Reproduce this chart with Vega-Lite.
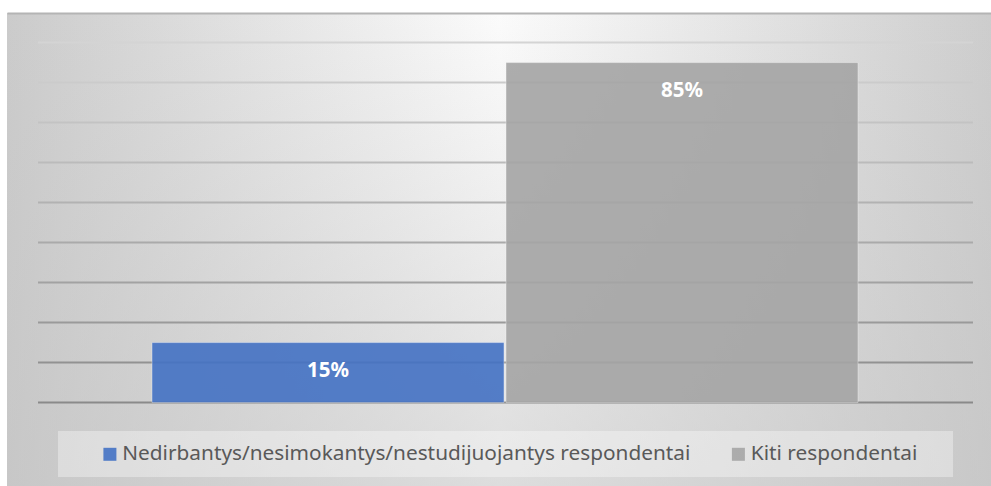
{
  "$schema": "https://vega.github.io/schema/vega-lite/v6.json",
  "width": 984,
  "height": 473,
  "autosize": {"type": "none"},
  "padding": {"left": 7, "top": 13, "right": 0, "bottom": 0},
  "background": "white",
  "config": {"view": {"stroke": null}, "font": "Noto Sans"},
  "datasets": {
    "bars": [
      {"series": "Nedirbantys/nesimokantys/nestudijuojantys respondentai", "value": 0.15},
      {"series": "Kiti respondentai", "value": 0.85}
    ],
    "grid": [
      {"v": 0}, {"v": 0.1}, {"v": 0.2}, {"v": 0.3}, {"v": 0.4},
      {"v": 0.5}, {"v": 0.6}, {"v": 0.7}, {"v": 0.8}, {"v": 0.9}
    ],
    "bg": [{"layer": "background"}]
  },
  "layer": [
    {
      "data": {"name": "bg"},
      "mark": {
        "type": "rect",
        "fill": {
          "gradient": "linear", "x1": 0, "y1": 0, "x2": 1, "y2": 0,
          "stops": [
            {"offset": 0, "color": "#cbcbcb"},
            {"offset": 0.5, "color": "#fbfbfb"},
            {"offset": 1, "color": "#cdcdcd"}
          ]
        }
      },
      "encoding": {}
    },
    {
      "data": {"name": "bg"},
      "mark": {
        "type": "rect",
        "fill": {
          "gradient": "linear", "x1": 0, "y1": 0, "x2": 0, "y2": 1,
          "stops": [
            {"offset": 0, "color": "rgba(196,196,196,0)"},
            {"offset": 1, "color": "rgba(196,196,196,0.55)"}
          ]
        }
      },
      "encoding": {}
    },
    {
      "data": {"name": "grid"},
      "mark": {"type": "rule", "strokeWidth": 2, "strokeDash": [0, 18, 935, 100]},
      "encoding": {
        "y": {
          "field": "v", "type": "quantitative",
          "scale": {"domain": [-0.2085, 0.974], "nice": false, "zero": false},
          "axis": null
        },
        "stroke": {
          "field": "v", "type": "quantitative",
          "scale": {"domain": [0, 0.9], "range": ["#8a8a8a", "#d4d4d4"]},
          "legend": null
        }
      }
    },
    {
      "data": {"name": "bars"},
      "mark": {"type": "bar", "opacity": 0.9, "stroke": "white", "strokeWidth": 1, "strokeOpacity": 0.4},
      "encoding": {
        "x": {
          "field": "series", "type": "nominal",
          "sort": ["Nedirbantys/nesimokantys/nestudijuojantys respondentai", "Kiti respondentai"],
          "scale": {"paddingInner": 0.0056, "paddingOuter": 0.3926, "align": 0.5216},
          "axis": {
            "orient": "top", "labels": false, "ticks": false, "title": null, "grid": false,
            "domainColor": "#b4b4b4", "domainWidth": 2, "zindex": 1
          }
        },
        "y": {"field": "value", "type": "quantitative", "axis": null},
        "color": {
          "field": "series", "type": "nominal",
          "sort": ["Nedirbantys/nesimokantys/nestudijuojantys respondentai", "Kiti respondentai"],
          "scale": {
            "domain": ["Nedirbantys/nesimokantys/nestudijuojantys respondentai", "Kiti respondentai"],
            "range": ["#4472C4", "#A5A5A5"]
          },
          "legend": {
            "orient": "none", "legendX": 51, "legendY": 418,
            "direction": "horizontal",
            "title": " ", "titleOrient": "right", "titlePadding": 23, "titleFontSize": 1,
            "symbolType": "square", "symbolSize": 169, "symbolStrokeWidth": 0,
            "symbolOffset": 29,
            "labelFont": "Noto Sans", "labelFontSize": 20.8, "labelColor": "#595959",
            "labelLimit": 1000, "labelOffset": 2, "columnPadding": 8.5,
            "padding": 12.5, "fillColor": "rgba(255,255,255,0.35)"
          }
        }
      }
    },
    {
      "data": {"name": "bars"},
      "mark": {"type": "text", "color": "white", "fontWeight": "bold", "fontSize": 20.5, "baseline": "alphabetic", "dy": 34.5, "font": "Noto Sans"},
      "encoding": {
        "x": {
          "field": "series", "type": "nominal",
          "sort": ["Nedirbantys/nesimokantys/nestudijuojantys respondentai", "Kiti respondentai"]
        },
        "y": {"field": "value", "type": "quantitative"},
        "text": {"field": "value", "type": "quantitative", "format": ".0%"}
      }
    }
  ]
}
